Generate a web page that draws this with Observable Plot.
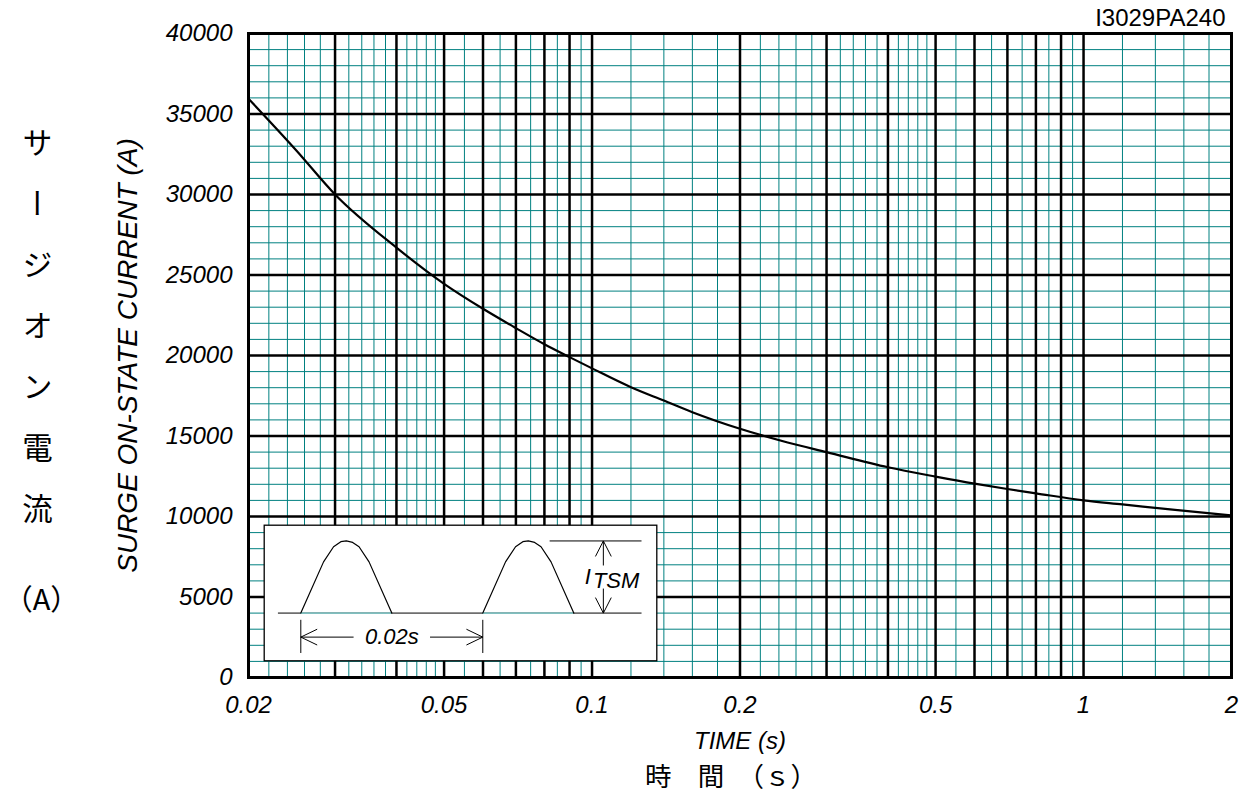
<!DOCTYPE html>
<html><head><meta charset="utf-8">
<script src="https://cdn.jsdelivr.net/npm/d3@7"></script>
<script src="https://cdn.jsdelivr.net/npm/@observablehq/plot@0.6"></script>
<style>
html,body{margin:0;padding:0;background:#fff;}
#wrap{position:relative;width:1248px;height:806px;}
#inset{position:absolute;left:263px;top:524px;}
</style></head><body><div id="wrap"><div id="chart"></div><div id="inset"></div></div>
<script>
// ---- curve data: time (s) vs surge on-state current (A)
const times    = [0.02, 0.025, 0.03, 0.04, 0.05, 0.06, 0.07, 0.08, 0.09, 0.1, 0.12, 0.14, 0.16, 0.2, 0.25, 0.3, 0.4, 0.5, 0.6, 0.7, 0.8, 1.0, 1.2, 1.5, 2.0];
const currents = [35950, 32750, 30000, 26700, 24450, 22900, 21700, 20700, 19900, 19200, 18030, 17200, 16480, 15450, 14600, 14000, 13060, 12480, 12040, 11710, 11440, 11000, 10750, 10440, 10060];

// ---- grid / tick values
const xLabelTicks = [0.02, 0.05, 0.1, 0.2, 0.5, 1, 2];
const xMajor = [0.02, 0.03, 0.04, 0.05, 0.06, 0.07, 0.08, 0.09, 0.1, 0.2, 0.3, 0.4, 0.5, 0.6, 0.7, 0.8, 0.9, 1, 2];
const xMinor = [0.022, 0.024, 0.026, 0.028, 0.032, 0.034, 0.036, 0.038, 0.042, 0.044, 0.046, 0.048,
                0.055, 0.065, 0.075, 0.085, 0.095, 0.12, 0.14, 0.16, 0.18, 0.22, 0.24, 0.26, 0.28,
                0.32, 0.34, 0.36, 0.38, 0.42, 0.44, 0.46, 0.48, 0.55, 0.65, 0.75, 0.85, 0.95,
                1.2, 1.4, 1.6, 1.8];
const yMajor = [0, 5000, 10000, 15000, 20000, 25000, 30000, 35000, 40000];
const yMinor = [1000, 2000, 3000, 4000, 6000, 7000, 8000, 9000, 11000, 12000, 13000, 14000,
                16000, 17000, 18000, 19000, 21000, 22000, 23000, 24000, 26000, 27000, 28000, 29000,
                31000, 32000, 33000, 34000, 36000, 37000, 38000, 39000];

// ---- texts
const yLabelEn = "SURGE ON-STATE CURRENT (A)";
const yLabelJa = "サ　ー　ジ　オ　ン　電　流";
const yUnitJa = "（A）";
const xLabelEn = "TIME (s)";
const xLabelJa = "時　間　（ｓ）";
const figId = "I3029PA240";

// ---- inset schematic (time in ms, normalised amplitude)
const humpT = [0, 2.5, 3.6, 4.4, 5, 5.7, 6.4, 7.5, 10];
const humpV = [0, 0.71, 0.92, 0.99, 1, 0.98, 0.92, 0.71, 0];
const humpStarts = [0, 20];
const baseLine = [-2.46, 37.5];
const itsmLevel = [27.4, 37.5];
const itsmX = 33.25;
const itsmShafts = [[0.66, 1], [0.34, 0]];
const dimTicks = [0, 20];
const dimTickSpan = [-0.1, -0.56];
const dimY = -0.333;
const dimShafts = [[5.8, 0], [14.2, 20]];
const wingDx = 0.85, wingDv = 0.21, wingDt = 1.76, wingDy = 0.107;

const FONT = "'Liberation Sans', Arial, Helvetica, sans-serif";
const JFONT = "'Noto Sans CJK JP', 'Noto Sans CJK SC', sans-serif";

const data = times.map((t, i) => ({t, a: currents[i]}));

const chart = Plot.plot({
  width: 1248, height: 806,
  marginLeft: 248, marginRight: 17, marginTop: 33, marginBottom: 129,
  style: {fontFamily: FONT, fontSize: "24px", fontStyle: "italic", color: "black", background: "white"},
  x: {type: "log", domain: [0.02, 2], ticks: xLabelTicks, tickFormat: d => String(d), tickSize: 0, tickPadding: 18, label: null},
  y: {domain: [0, 40000], ticks: yMajor, tickFormat: d => String(d), tickSize: 0, tickPadding: 16, label: null},
  marks: [
    Plot.ruleX(xMinor, {stroke: "#008080", strokeWidth: 1}),
    Plot.ruleY(yMinor, {stroke: "#008080", strokeWidth: 1}),
    Plot.ruleX(xMajor, {stroke: "black", strokeWidth: 2.5}),
    Plot.ruleY(yMajor, {stroke: "black", strokeWidth: 2.5}),
    Plot.frame({stroke: "black", strokeWidth: 3}),
    Plot.line(data, {x: "t", y: "a", stroke: "black", strokeWidth: 2.2, curve: "monotone-x"}),
    Plot.text([figId], {frameAnchor: "top-right", textAnchor: "end", lineAnchor: "bottom", dx: -6, dy: -8, fontStyle: "normal", fontSize: 24}),
    Plot.text([yLabelEn], {frameAnchor: "left", textAnchor: "middle", dx: -120, dy: 0, rotate: -90, fontSize: 28}),
    Plot.text([xLabelEn], {frameAnchor: "bottom", dy: 71, fontSize: 24}),
    Plot.text([xLabelJa], {frameAnchor: "bottom", dx: -9, dy: 108, fontSize: 26.5, fontStyle: "normal", fontFamily: JFONT}),
    Plot.text([yLabelJa], {frameAnchor: "left", textAnchor: "middle", dx: -211, dy: -30, fontSize: 30.5, fontStyle: "normal", fontFamily: JFONT}),
    Plot.text([yUnitJa], {frameAnchor: "left", textAnchor: "middle", dx: -207, dy: 245, fontSize: 29, fontStyle: "normal", fontFamily: JFONT})
  ]
});
d3.select(chart).selectAll("text").each(function() {
  if (this.textContent === yLabelJa) {
    d3.select(this).attr("y", null).style("writing-mode", "vertical-rl");
  }
});
document.getElementById("chart").appendChild(chart);

// ---- inset
const wave = [];
humpStarts.forEach((s, k) => humpT.forEach((t, i) => wave.push({t: s + t, v: humpV[i], k})));
const spans = humpStarts.map(s => ({x1: s, x2: s + humpT[humpT.length - 1]}));
const shafts = [
  ...itsmShafts.map(([a, b]) => ({x1: itsmX, y1: a, x2: itsmX, y2: b})),
  ...dimShafts.map(([a, b]) => ({x1: a, y1: dimY, x2: b, y2: dimY}))
];
const wings = [];
[[itsmX, 1, -1], [itsmX, 0, 1]].forEach(([x, y, s], k) => {
  wings.push({k: "v" + k, t: x - wingDx, v: y + s * wingDv}, {k: "v" + k, t: x, v: y}, {k: "v" + k, t: x + wingDx, v: y + s * wingDv});
});
[[0, 1], [20, -1]].forEach(([x, s], k) => {
  wings.push({k: "h" + k, t: x + s * wingDt, v: dimY + wingDy}, {k: "h" + k, t: x, v: dimY}, {k: "h" + k, t: x + s * wingDt, v: dimY - wingDy});
});

const inset = Plot.plot({
  width: 394, height: 137, margin: 0,
  style: {fontFamily: FONT, background: "transparent", overflow: "visible"},
  x: {domain: [-4.1, 39.2], axis: null},
  y: {domain: [-0.671, 1.228], axis: null},
  marks: [
    Plot.frame({fill: "white", stroke: "black", strokeWidth: 1.3, inset: 0.7}),
    Plot.ruleY([0], {x1: baseLine[0], x2: baseLine[1], stroke: "#6e6e6e", strokeWidth: 1.6}),
    Plot.ruleY(spans, {x1: "x1", x2: "x2", y: 0, stroke: "#7fbfbf", strokeWidth: 1.6}),
    Plot.line(wave, {x: "t", y: "v", z: "k", stroke: "black", strokeWidth: 1.2}),
    Plot.ruleY([1], {x1: itsmLevel[0], x2: itsmLevel[1], stroke: "black", strokeWidth: 1}),
    Plot.link(shafts, {x1: "x1", y1: "y1", x2: "x2", y2: "y2", stroke: "black", strokeWidth: 1}),
    Plot.line(wings, {x: "t", y: "v", z: "k", stroke: "black", strokeWidth: 1}),
    Plot.ruleX(dimTicks, {y1: dimTickSpan[0], y2: dimTickSpan[1], stroke: "black", strokeWidth: 1}),
    Plot.text(["0.02s"], {x: 10, y: dimY, fontSize: 22, fontStyle: "italic"}),
    Plot.text(["I"], {x: 31.2, y: 0.4, textAnchor: "start", lineAnchor: "bottom", fontSize: 22, fontStyle: "italic"}),
    Plot.text(["TSM"], {x: 32.1, y: 0.343, textAnchor: "start", lineAnchor: "bottom", fontSize: 22, fontStyle: "italic"})
  ]
});
document.getElementById("inset").appendChild(inset);
</script>
</body></html>
